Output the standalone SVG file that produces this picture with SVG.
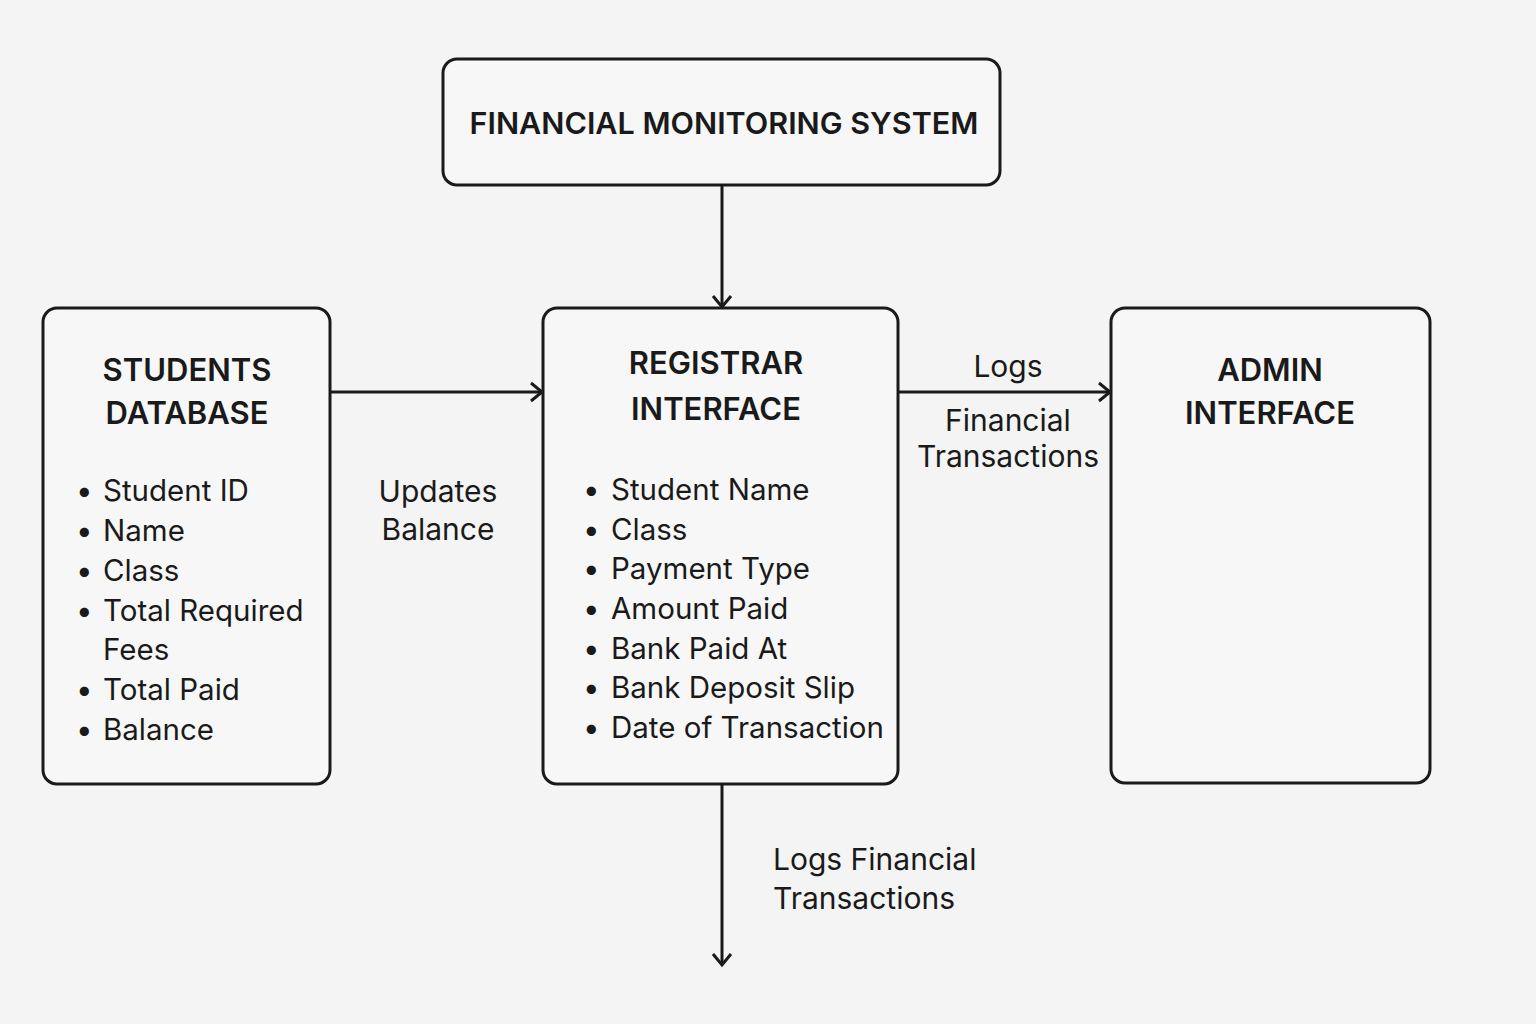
<svg xmlns="http://www.w3.org/2000/svg" width="1536" height="1024" viewBox="0 0 1536 1024">
<defs>
<marker id="arr" viewBox="0 0 24 24" refX="20" refY="12" markerWidth="24" markerHeight="24" markerUnits="userSpaceOnUse" orient="auto">
<path d="M9,3 L20,12 L9,21" fill="none" stroke="#1a1a1a" stroke-width="3"/>
</marker>
<style>
.box{fill:#f7f7f7;stroke:#1a1a1a;stroke-width:3}
.title{font-family:Inter,"Liberation Sans",sans-serif;font-weight:600;fill:#1a1a1a;text-anchor:middle}
.item{font-family:Inter,"Liberation Sans",sans-serif;font-size:29.5px;fill:#1a1a1a}
.lbl{font-family:Inter,"Liberation Sans",sans-serif;font-size:30px;fill:#1a1a1a}
.c{text-anchor:middle}
.conn{stroke:#1a1a1a;stroke-width:3;fill:none}
</style>
</defs>
<rect width="1536" height="1024" fill="#f4f4f4"/>
<g id="connectors">
<line class="conn" x1="722" y1="185" x2="722" y2="307" marker-end="url(#arr)"/>
<line class="conn" x1="330" y1="392" x2="542" y2="392" marker-end="url(#arr)"/>
<line class="conn" x1="898" y1="392" x2="1110" y2="392" marker-end="url(#arr)"/>
<line class="conn" x1="722" y1="784" x2="722" y2="965" marker-end="url(#arr)"/>
<text class="lbl c" x="438" y="502">Updates</text>
<text class="lbl c" x="438" y="540">Balance</text>
<text class="lbl c" x="1008" y="377">Logs</text>
<text class="lbl c" x="1008" y="431">Financial</text>
<text class="lbl c" x="1008" y="467">Transactions</text>
<text class="lbl" x="773" y="870">Logs Financial</text>
<text class="lbl" x="773" y="909">Transactions</text>
</g>
<g id="fms">
<rect class="box" x="443" y="59" width="557" height="126" rx="14"/>
<text class="title" x="724" y="134" font-size="30.5">FINANCIAL MONITORING SYSTEM</text>
</g>
<g id="students">
<rect class="box" x="43" y="308" width="287" height="476" rx="14"/>
<text class="title" x="187" y="381" font-size="31">STUDENTS</text>
<text class="title" x="187" y="424" font-size="31">DATABASE</text>
<g class="item">
<text x="76" y="501">•</text><text x="103" y="501">Student ID</text>
<text x="76" y="541">•</text><text x="103" y="541">Name</text>
<text x="76" y="581">•</text><text x="103" y="581">Class</text>
<text x="76" y="621">•</text><text x="103" y="621">Total Required</text>
<text x="103" y="660">Fees</text>
<text x="76" y="700">•</text><text x="103" y="700">Total Paid</text>
<text x="76" y="740">•</text><text x="103" y="740">Balance</text>
</g>
</g>
<g id="registrar">
<rect class="box" x="543" y="308" width="355" height="476" rx="14"/>
<text class="title" x="716" y="374" font-size="31">REGISTRAR</text>
<text class="title" x="716" y="420" font-size="31">INTERFACE</text>
<g class="item">
<text x="583" y="500">•</text><text x="611" y="500">Student Name</text>
<text x="583" y="540">•</text><text x="611" y="540">Class</text>
<text x="583" y="579">•</text><text x="611" y="579">Payment Type</text>
<text x="583" y="619">•</text><text x="611" y="619">Amount Paid</text>
<text x="583" y="659">•</text><text x="611" y="659">Bank Paid At</text>
<text x="583" y="698">•</text><text x="611" y="698">Bank Deposit Slip</text>
<text x="583" y="738">•</text><text x="611" y="738">Date of Transaction</text>
</g>
</g>
<g id="admin">
<rect class="box" x="1111" y="308" width="319" height="475" rx="14"/>
<text class="title" x="1270" y="381" font-size="31">ADMIN</text>
<text class="title" x="1270" y="424" font-size="31">INTERFACE</text>
</g>
</svg>
